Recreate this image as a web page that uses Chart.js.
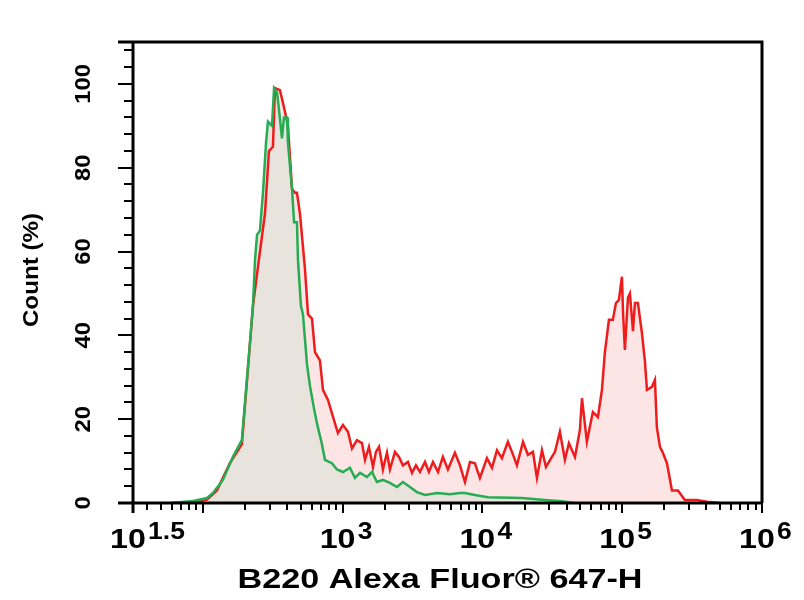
<!DOCTYPE html>
<html>
<head>
<meta charset="utf-8">
<script src="https://cdn.jsdelivr.net/npm/chart.js@4.4.1/dist/chart.umd.min.js"></script>
<style>
  html, body { margin: 0; padding: 0; background: #fff; }
</style>
</head>
<body>
<canvas id="histo" width="804" height="600"></canvas>
<script>
// B220 histogram: red = stained sample, green = control
const redX = [60, 90, 107, 126, 156, 190, 210, 228, 256, 278,
  297, 317, 328, 356, 380, 406, 434, 456, 471, 495,
  537, 565, 603, 634, 688, 723, 785, 881, 925, 1005,
  1091, 1166, 1265, 1374, 1445, 1542, 1648, 1730, 1820, 1941,
  2075, 2178, 2366, 2528, 2698, 2931, 3133, 3344, 3573, 3879,
  4140, 4426, 4808, 5212, 5662, 6353, 6902, 7499, 8147, 8832,
  9594, 10770, 11700, 12700, 13780, 15210, 16260, 17660, 19500, 21150,
  22980, 24540, 26660, 28460, 31410, 33020, 35810, 38900, 41560, 45890,
  49800, 51520, 55850, 61660, 66990, 71610, 75170, 80350, 85700, 90160,
  94620, 99540, 101200, 104500, 109900, 113500, 119400, 123300, 129500, 138400,
  145200, 150300, 163000, 171400, 177000, 186200, 195400, 208900, 226900, 250300,
  280700, 342100, 403600, 500000];
const redY = [0, 0.3, 0.8, 3, 9.5, 14, 32, 47, 60, 69,
  84, 85, 99, 98.5, 94.5, 90, 75, 74, 74, 69,
  56, 45, 44, 36, 34, 27, 24.6, 19, 16.7, 18.6,
  17, 13, 15, 14.3, 10.3, 13.4, 8.6, 12.2, 13.4, 8,
  12, 8, 12.2, 11, 9, 9.8, 7.2, 9, 7.4, 9.8,
  7.4, 9.8, 7.4, 11, 8, 12, 9, 5, 9.8, 9.5,
  6, 10.7, 8.4, 12.6, 10.7, 14.6, 12.2, 9, 14.6, 11.5,
  12.2, 6, 12.6, 8.6, 11, 12.2, 17, 10.3, 14.3, 11,
  17.4, 25, 14.6, 21.7, 20.5, 27, 36, 43.7, 43.7, 47.7,
  48.4, 54, 46, 36.5, 49, 50, 41, 47.7, 47.7, 40.5,
  34, 27, 27.7, 29.4, 18, 13.4, 12, 9.5, 3, 3,
  0.7, 0.7, 0.3, 0];

const greenX = [60, 85, 107, 118, 139, 164, 190, 207, 217, 228,
  236, 244, 256, 269, 283, 292, 312, 323, 339, 350,
  368, 380, 400, 406, 434, 449, 471, 479, 503, 520,
  556, 583, 620, 655, 711, 747, 838, 910, 1005, 1127,
  1225, 1330, 1493, 1622, 1758, 1941, 2178, 2445, 2698, 3030,
  3398, 3879, 4728, 5857, 6902, 7499, 8832, 10940, 19180, 27990,
  37070, 45000];
const greenY = [0, 0.5, 1.2, 2.4, 5.5, 11, 15, 30, 38, 47,
  58, 64, 65, 74, 86, 91, 90, 99, 98, 94,
  87, 92, 92, 86, 75, 67, 67, 58, 47, 45,
  33, 28, 23, 19, 14, 10.3, 9.5, 8, 7.4, 8.4,
  6, 7.2, 6.2, 7.4, 5, 5.5, 4.8, 3.8, 5, 3.8,
  2.6, 1.9, 2.4, 2.1, 2.4, 2.4, 1.9, 1.4, 1.2, 0.7,
  0.4, 0];

// axis ticks
const xMajor = [Math.pow(10, 1.5), 1e2, 1e3, 1e4, 1e5, 1e6];
const xLabelVals = [Math.pow(10, 1.5), 1e3, 1e4, 1e5, 1e6];
const xLabelExp = ['1.5', '3', '4', '5', '6'];
const yLabelVals = [0, 20, 40, 60, 80, 100];
const xTitle = 'B220 Alexa Fluor\u00AE 647-H';
const yTitle = 'Count (%)';

const FONT = '"Liberation Sans", Arial, sans-serif';

const flowAxes = {
  id: 'flowAxes',
  afterDraw(chart) {
    const ctx = chart.ctx;
    const a = chart.chartArea;
    const xs = chart.scales.x, ys = chart.scales.y;
    ctx.save();
    ctx.strokeStyle = '#000';
    ctx.fillStyle = '#000';

    // box
    ctx.lineWidth = 3;
    ctx.beginPath();
    ctx.moveTo(a.left - 15, a.top);
    ctx.lineTo(a.right, a.top);
    ctx.lineTo(a.right, a.bottom);
    ctx.moveTo(a.left - 15, a.bottom);
    ctx.lineTo(a.right, a.bottom);
    ctx.moveTo(a.left, a.top);
    ctx.lineTo(a.left, a.bottom + 10);
    ctx.stroke();

    // y ticks, major every 20, minor every 4
    ctx.lineWidth = 2;
    ctx.beginPath();
    for (let v = 0; v <= 108; v += 4) {
      const y = Math.round(ys.getPixelForValue(v));
      const len = v % 20 === 0 ? 15 : 9;
      ctx.moveTo(a.left - len, y);
      ctx.lineTo(a.left, y);
    }
    ctx.stroke();

    // x ticks (log decades)
    ctx.beginPath();
    for (const v of xMajor) {
      const x = Math.round(xs.getPixelForValue(v));
      ctx.moveTo(x, a.bottom);
      ctx.lineTo(x, a.bottom + 10);
    }
    for (let d = 1; d <= 5; d++) {
      for (let m = 2; m <= 9; m++) {
        const v = m * Math.pow(10, d);
        if (v < xs.min || v > xs.max) continue;
        const x = Math.round(xs.getPixelForValue(v));
        ctx.moveTo(x, a.bottom);
        ctx.lineTo(x, a.bottom + 7);
      }
    }
    ctx.stroke();

    // y tick labels
    ctx.font = 'bold 22px ' + FONT;
    ctx.textAlign = 'center';
    ctx.textBaseline = 'alphabetic';
    for (const v of yLabelVals) {
      ctx.save();
      ctx.translate(90, ys.getPixelForValue(v));
      ctx.rotate(-Math.PI / 2);
      ctx.scale(1.08, 1);
      ctx.fillText(String(v), 0, 0);
      ctx.restore();
    }

    // y title
    ctx.save();
    ctx.font = 'bold 22px ' + FONT;
    ctx.translate(38, 270);
    ctx.rotate(-Math.PI / 2);
    ctx.scale(1.1, 1);
    ctx.fillText(yTitle, 0, 0);
    ctx.restore();

    // x tick labels: 10 with superscript exponent
    ctx.textAlign = 'left';
    xLabelVals.forEach((v, i) => {
      const x = xs.getPixelForValue(v);
      ctx.save();
      ctx.translate(x - 23, 548);
      ctx.scale(1.15, 1);
      ctx.font = 'bold 28px ' + FONT;
      const wb = ctx.measureText('10').width;
      ctx.fillText('10', 0, 0);
      ctx.font = 'bold 23px ' + FONT;
      ctx.fillText(xLabelExp[i], wb + 2, -9);
      ctx.restore();
    });

    // x title
    ctx.save();
    ctx.font = 'bold 27px ' + FONT;
    ctx.textAlign = 'center';
    const w = ctx.measureText(xTitle).width;
    ctx.translate(440, 588);
    ctx.scale(405 / w, 1);
    ctx.fillText(xTitle, 0, 0);
    ctx.restore();

    ctx.restore();
  }
};

const toPoints = (xv, yv) => xv.map((x, i) => ({ x: x, y: yv[i] }));

new Chart(document.getElementById('histo'), {
  type: 'line',
  data: {
    datasets: [{
      label: 'Control',
      data: toPoints(greenX, greenY),
      borderColor: '#26ac52',
      backgroundColor: '#e8e3dd',
      fill: 'origin',
      borderWidth: 2.5,
      pointRadius: 0,
      tension: 0
    }, {
      label: 'B220',
      data: toPoints(redX, redY),
      borderColor: '#ee1d1d',
      backgroundColor: '#fde5e5',
      fill: 'origin',
      borderWidth: 2.5,
      pointRadius: 0,
      tension: 0
    }]
  },
  options: {
    responsive: false,
    animation: false,
    layout: { padding: { left: 133, top: 42, right: 42, bottom: 97 } },
    scales: {
      x: { type: 'logarithmic', min: Math.pow(10, 1.5), max: 1e6, display: false },
      y: { type: 'linear', min: 0, max: 110, display: false }
    },
    plugins: {
      legend: { display: false },
      tooltip: { enabled: false },
      filler: { drawTime: 'beforeDatasetsDraw' }
    }
  },
  plugins: [flowAxes]
});
</script>
</body>
</html>
